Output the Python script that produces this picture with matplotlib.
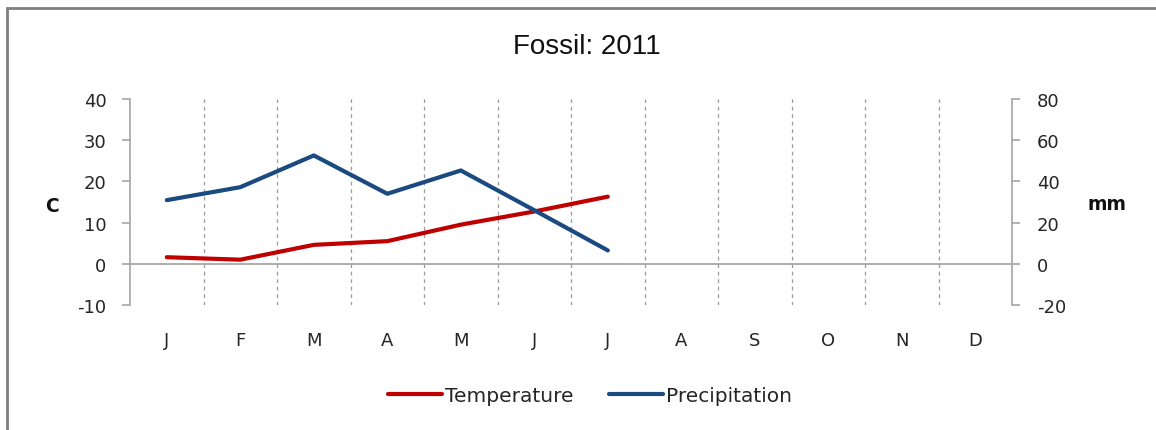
import matplotlib.pyplot as plt
from matplotlib.patches import Rectangle

plt.rcParams['font.family'] = ['DejaVu Sans']
plt.rcParams['axes.unicode_minus'] = False

# Dati climatici mensili
months = ['J', 'F', 'M', 'A', 'M', 'J', 'J', 'A', 'S', 'O', 'N', 'D']
temperature = [1.6, 1.0, 4.6, 5.5, 9.5, 12.7, 16.3]       # C
precipitation = [30.9, 37.2, 52.6, 34.0, 45.3, 26.0, 6.5]  # mm

RED = '#C00000'
BLUE = '#1A4A80'
GRAY = '#A6A6A6'
TXT = '#262626'

fig = plt.figure(figsize=(11.56, 4.31), dpi=100)
ax = fig.add_axes([0.1125, 0.290, 0.763, 0.478])
ax2 = ax.twinx()

x = list(range(len(temperature)))
l1, = ax.plot(x, temperature, color=RED, lw=3, solid_capstyle='round', label='Temperature')
l2, = ax2.plot(x, precipitation, color=BLUE, lw=3, solid_capstyle='round', label='Precipitation')

ax.set_xlim(-0.5, 11.5)
ax.set_ylim(-10, 40)
ax2.set_ylim(-20, 80)
ax.set_yticks(range(-10, 41, 10))
ax2.set_yticks(range(-20, 81, 20))
ax.set_xticks(range(12))
ax.set_xticklabels(months)

# Griglia verticale tratteggiata tra i mesi
for b in range(11):
    ax.axvline(b + 0.5, color='#9A9A9A', lw=0.9, ls=(0, (3, 3)), zorder=0)
ax.axhline(0, color='#A0A0A0', lw=1.2, zorder=1)

for a in (ax, ax2):
    for s in a.spines.values():
        s.set_visible(False)
ax.spines['left'].set_visible(True)
ax.spines['left'].set_color(GRAY)
ax.spines['left'].set_linewidth(1.2)
ax2.spines['right'].set_visible(True)
ax2.spines['right'].set_color(GRAY)
ax2.spines['right'].set_linewidth(1.2)

ax.tick_params(axis='y', length=6, color=GRAY, width=1.2, pad=11, labelsize=13, labelcolor=TXT)
ax2.tick_params(axis='y', length=6, color=GRAY, width=1.2, pad=12, labelsize=13, labelcolor=TXT)
ax.tick_params(axis='x', length=0, pad=19, labelsize=13, labelcolor=TXT)

fig.text(587 / 1156, 1 - 47 / 431, 'Fossil: 2011', ha='center', va='center',
         fontsize=20, color='#111111', family='Liberation Sans')
fig.text(52 / 1156, 1 - 207 / 431, 'C', ha='center', va='center', fontsize=13.5,
         fontweight='bold', color='#111111')
fig.text(1107 / 1156, 1 - 205 / 431, 'mm', ha='center', va='center', fontsize=13.5,
         fontweight='bold', color='#111111')

leg = fig.legend(handles=[l1, l2], loc='center', bbox_to_anchor=(590 / 1156, 1 - 397 / 431),
                 ncol=2, frameon=False, fontsize=14.5, handlelength=2.7, handletextpad=0.15,
                 columnspacing=1.75)
for t in leg.get_texts():
    t.set_color(TXT)

# Cornice grigia attorno al grafico
fig.patches.append(Rectangle((7 / 1156, -0.05), 1.1, 1 - 9 / 431 + 0.05,
                             transform=fig.transFigure, fill=False,
                             edgecolor='#7F7F7F', lw=2, zorder=10))

fig.savefig('out.png', dpi=100)
